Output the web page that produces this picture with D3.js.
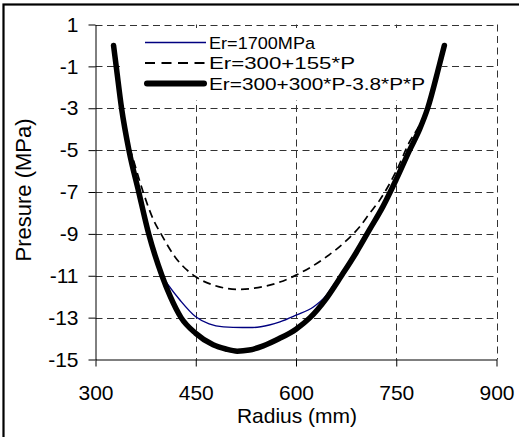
<!DOCTYPE html>
<html><head><meta charset="utf-8">
<script src="https://cdn.jsdelivr.net/npm/d3@7/dist/d3.min.js"></script>
<style>
html,body{margin:0;padding:0;background:#fff;}
svg{display:block;}
text{font-family:"Liberation Sans",Arial,sans-serif;fill:#000;}
</style></head>
<body>
<svg id="chart" width="519" height="437"></svg>
<script>
// ---- data ----
const xTicks = [300, 450, 600, 750, 900];
const yTicks = [1, -1, -3, -5, -7, -9, -11, -13, -15];
const seriesNames = ["Er=1700MPa", "Er=300+155*P", "Er=300+300*P-3.8*P*P"];

// thick curve: Er=300+300*P-3.8*P*P  (radius, pressure)
const radiusQuad = [327, 331, 339, 350, 364.7, 379.6, 399.5, 412, 428, 450, 476, 495, 512, 530, 551, 575, 600, 621, 645, 668, 690, 710, 730, 750, 770, 785, 797, 814, 822];
const pressQuad  = [0, -1, -3, -5, -7, -9, -11, -12, -13, -13.75, -14.3, -14.5, -14.6, -14.55, -14.35, -14.0, -13.55, -13.0, -12.1, -11.0, -9.9, -8.8, -7.7, -6.4, -5.0, -4.0, -3.0, -1.0, 0];

// blue curve: Er=1700MPa
const radiusConst = [327, 331, 339, 350, 364.7, 379.6, 399.5, 409, 426.6, 450, 470, 491.5, 520, 535, 560, 576, 600, 626, 645, 656, 668, 690, 710, 730, 750, 770, 785, 797, 814, 822];
const pressConst  = [0, -1, -3, -5, -7, -9, -11, -11.45, -12.17, -12.96, -13.3, -13.44, -13.47, -13.47, -13.35, -13.2, -12.88, -12.49, -11.95, -11.45, -10.95, -9.9, -8.8, -7.6, -6.3, -4.95, -3.95, -3.0, -1.0, 0];

// dashed curve: Er=300+155*P
const radiusLin = [327, 331, 339, 348, 357, 372, 387, 398, 419, 450, 477, 514, 536, 576, 600, 641, 676, 695, 710, 725, 750, 770, 785, 797, 814, 822];
const pressLin  = [0, -1, -3, -4.5, -5.5, -7.07, -8.35, -9.0, -10.1, -11.05, -11.45, -11.65, -11.6, -11.3, -10.97, -10.2, -9.3, -8.67, -8.03, -7.4, -6.0, -4.6, -3.8, -3.0, -1.0, 0];

// ---- chart ----
const svg = d3.select("#chart");
const FONT = 21;
const x = d3.scaleLinear().domain([300, 900]).range([95.5, 496.5]);
const y = d3.scaleLinear().domain([-15, 1]).range([359.5, 24.5]);

// outer frame
svg.append("rect").attr("x", 3.5).attr("y", 4.5).attr("width", 700).attr("height", 700)
  .attr("fill", "none").attr("stroke", "#000").attr("stroke-width", 2.2);

// grid
const grid = svg.append("g").attr("stroke", "#333").attr("stroke-width", 1)
  .attr("stroke-dasharray", "7,4.5").attr("fill", "none");
yTicks.filter(v => v !== -15).forEach(v => {
  grid.append("line").attr("x1", x(300)).attr("x2", x(900))
    .attr("y1", Math.round(y(v)) + 0.5).attr("y2", Math.round(y(v)) + 0.5);
});
xTicks.filter(v => v !== 300).forEach(v => {
  grid.append("line").attr("y1", y(1)).attr("y2", y(-15))
    .attr("x1", Math.round(x(v)) + 0.5).attr("x2", Math.round(x(v)) + 0.5);
});

// legend background (covers grid)
svg.append("rect").attr("x", 120).attr("y", 28).attr("width", 322).attr("height", 72).attr("fill", "#fff");

// axes
const xAxis = d3.axisBottom(x).tickValues(xTicks).tickSize(7).tickSizeOuter(0).tickPadding(19);
const yAxis = d3.axisLeft(y).tickValues(yTicks).tickSize(7).tickSizeOuter(0).tickPadding(10).tickFormat(d3.format("d"));
const gx = svg.append("g").attr("transform", `translate(0,${y(-15)})`).call(xAxis);
const gy = svg.append("g").attr("transform", `translate(${x(300)},0)`).call(yAxis);
[gx, gy].forEach(g => {
  g.selectAll("path,line").attr("stroke", "#000").attr("stroke-width", 1);
  g.selectAll("text").attr("font-size", FONT).attr("font-family", "Liberation Sans, Arial, sans-serif").attr("fill", "#000");
});
gy.selectAll("text").text(d => d < 0 ? "-" + Math.abs(d) : d);

// axis titles
svg.append("text").attr("x", 297).attr("y", 423).attr("text-anchor", "middle")
  .attr("font-size", FONT).text("Radius (mm)");
svg.append("text").attr("transform", "translate(31,190) rotate(-90)").attr("text-anchor", "middle")
  .attr("font-size", 22).text("Presure (MPa)");

// series
const line = d3.line().x(d => x(d[0])).y(d => y(d[1])).curve(d3.curveMonotoneX);
const zip = (a, b) => a.map((v, i) => [v, b[i]]);

svg.append("path").datum(zip(radiusLin, pressLin)).attr("d", line)
  .attr("fill", "none").attr("stroke", "#000").attr("stroke-width", 1.7).attr("stroke-dasharray", "8,5");
svg.append("path").datum(zip(radiusConst, pressConst)).attr("d", line)
  .attr("fill", "none").attr("stroke", "#000080").attr("stroke-width", 1.4);
svg.append("path").datum(zip(radiusQuad, pressQuad)).attr("d", line)
  .attr("fill", "none").attr("stroke", "#000").attr("stroke-width", 5.5)
  .attr("stroke-linecap", "round").attr("stroke-linejoin", "round");

// legend
const legY = [42.5, 63, 83.5];
const legW = [106, 146, 216];
const leg = svg.append("g");
leg.append("line").attr("x1", 145).attr("x2", 206).attr("y1", legY[0]).attr("y2", legY[0])
  .attr("stroke", "#000080").attr("stroke-width", 1.4);
leg.append("line").attr("x1", 145).attr("x2", 206).attr("y1", legY[1]).attr("y2", legY[1])
  .attr("stroke", "#000").attr("stroke-width", 2).attr("stroke-dasharray", "10,6.5");
leg.append("line").attr("x1", 147).attr("x2", 204).attr("y1", legY[2]).attr("y2", legY[2])
  .attr("stroke", "#000").attr("stroke-width", 6).attr("stroke-linecap", "round");
seriesNames.forEach((n, i) => {
  leg.append("text").attr("x", 209).attr("y", legY[i] + 6)
    .attr("font-size", 17.4)
    .attr("textLength", legW[i]).attr("lengthAdjust", "spacingAndGlyphs")
    .text(n);
});
</script>
</body></html>
